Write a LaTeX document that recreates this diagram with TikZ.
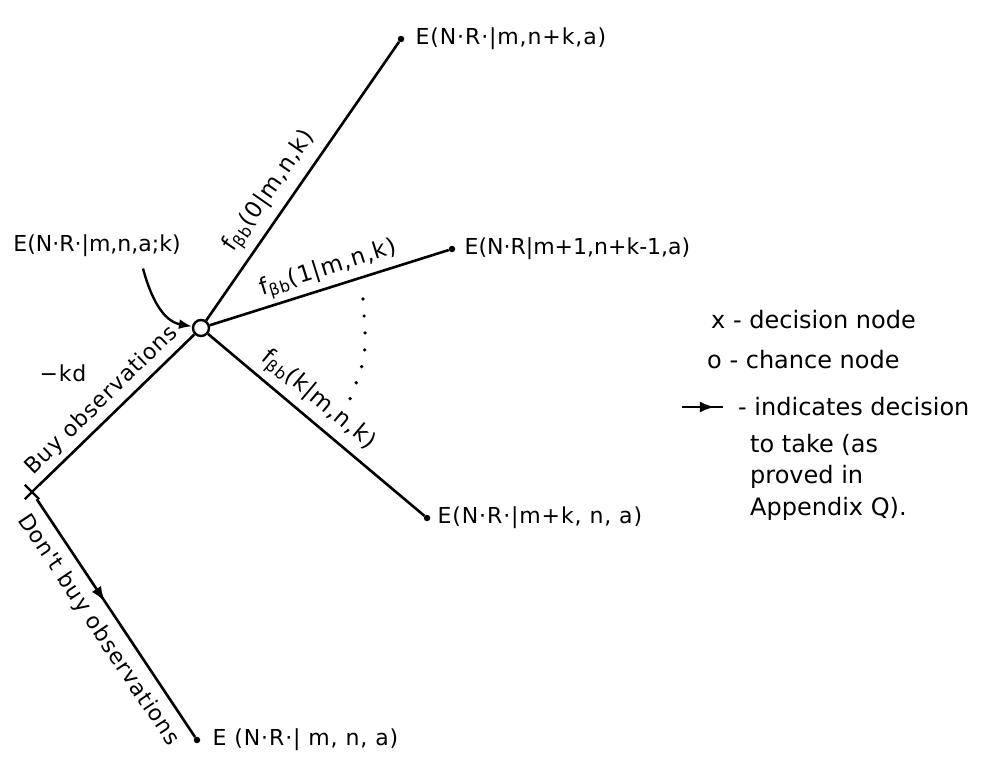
\documentclass[tikz,border=0pt]{standalone}
\usepackage{fontspec}
\setmainfont{DejaVu Sans}
\newfontfamily\handfont[LetterSpace=4]{DejaVu Sans}
\usetikzlibrary{arrows.meta,positioning,calc,shapes.misc,decorations.markings}

\begin{document}
\begin{tikzpicture}[
  x=1pt, y=-1pt,
  font=\handfont\fontsize{22}{26}\selectfont,
  chancenode/.style={draw, circle, line width=2.4pt, minimum size=16pt, inner sep=0pt},
  decnode/.style={draw, cross out, line width=2.4pt, minimum size=12pt, inner sep=0pt},
  endpt/.style={fill, circle, minimum size=6.5pt, inner sep=0pt},
  branch/.style={line width=2.6pt},
  elabel/.style={inner sep=1pt},
  prob/.style={font=\handfont\fontsize{23}{27}\selectfont, sloped},
  legend/.style={font=\rmfamily\fontsize{24}{30}\selectfont, inner sep=0pt},
  midarr/.style={postaction={decorate}, decoration={markings,
    mark=at position #1 with {\arrow{Latex[length=15pt,width=11pt]}}}},
  arr/.style={-{Latex[length=13pt,width=10pt]}, line width=2.4pt}
]
\useasboundingbox (0,0) rectangle (982,761);

% chance / decision nodes and end points
\node[chancenode] (chance) at (201,328) {};
\node[decnode] (dec) at (32,492) {};
\node[endpt] (e1) at (401,39) {};
\node[endpt] (e2) at (452,249) {};
\node[endpt] (e3) at (427,518) {};
\node[endpt] (e4) at (197,740) {};

% pay-offs
\node[elabel, right=10pt of e1] (t1) {E(N·R·|m,n+k,a)};
\node[elabel, right=8pt of e2, font=\rmfamily\fontsize{22}{26}\selectfont] (t2) {E(N·R|m+1,n+k-1,a)};
\node[elabel, right=6pt of e3] (t3) {E(N·R·|m+k, n, a)};
\node[elabel, right=11pt of e4] (t4) {E (N·R·| m, n, a)};
\node[font=\rmfamily\fontsize{22}{26}\selectfont] (tk) at (97,246) {E(N·R·|m,n,a;k)};
\node (cost) at (63,373) {−kd};

% branches
\draw[branch] (chance) -- (e1) node[prob, above=4pt, pos=.42] (p0) {f\textsubscript{βb}(0|m,n,k)};
\draw[branch] (chance) -- (e2) node[prob, above=1pt, pos=.52] (p1) {f\textsubscript{βb}(1|m,n,k)};
\draw[branch] (chance) -- (e3) node[prob, above=3pt, pos=.45] (pk) {f\textsubscript{βb}(k|m,n,k)};
\draw[branch] (dec) -- (chance) node[sloped, above=2pt, pos=.48] (buy) {Buy observations};
\draw[branch, midarr=.43] (dec) -- (e4) node[sloped, below=6pt, pos=.5] (nobuy) {Don't buy observations};
\draw[arr] ([xshift=46pt,yshift=-8pt]tk.south) to[out=-75, in=170] (chance);
\draw[line width=3.6pt, line cap=round, dash pattern=on 0pt off 17pt]
  (363,299) .. controls (367,356) .. (348,404);

% legend
\node[legend, anchor=base west] (lx) at (711,328) {x - decision node};
\node[legend, anchor=base west] (lo) at (707,368) {o - chance node};
\coordinate (la) at (682,407);
\coordinate (lb) at (723,407);
\draw[branch, midarr=.8] (la) -- (lb);
\node[legend, anchor=base west] (ld) at (738,415) {- indicates decision};
\node[legend, anchor=base west] (l1) at (750,452) {to take (as};
\node[legend, anchor=base west] (l2) at (750,483) {proved in};
\node[legend, anchor=base west] (l3) at (750,515) {Appendix Q).};
\end{tikzpicture}
\end{document}
